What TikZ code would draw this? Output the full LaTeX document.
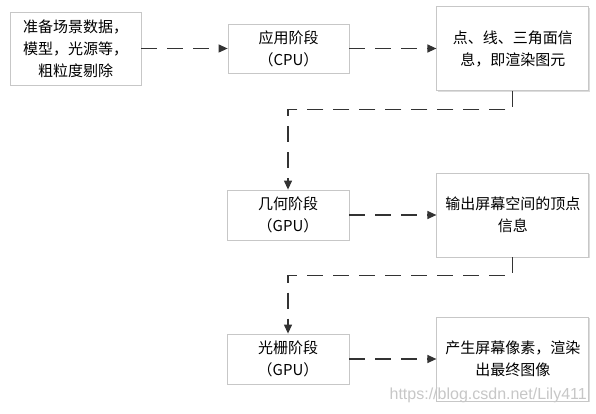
\documentclass[tikz,border=0pt]{standalone}
\usepackage{fontspec}
\setmainfont{Noto Sans CJK SC}
\newfontfamily\markfont{Liberation Sans}
\usepackage{tikz}
\usetikzlibrary{positioning,arrows.meta,shadows}

\begin{document}
\begin{tikzpicture}[
  x=1pt, y=-1pt,
  font=\fontsize{15}{22}\selectfont,
  box/.style={draw=black!22, fill=white, line width=0.8pt, align=center,
              inner sep=0pt,
              drop shadow={fill=black!30, opacity=0.45,
                           shadow xshift=1.2pt, shadow yshift=-1.2pt}},
  stagebox/.style={box, minimum width=122pt, minimum height=50pt},
  infobox/.style={box, minimum width=152pt, minimum height=84pt},
  flow/.style={draw=black!80, line width=1.2pt, dash pattern=on 16pt off 10pt,
               -{Triangle[length=9pt,width=8pt]}},
]
\useasboundingbox (0,0) rectangle (596,414);

\node[box, minimum width=131pt, minimum height=73pt] (prep) at (75.5,48.5)
  {准备场景数据，\\模型，光源等，\\粗粒度剔除};
\node[stagebox, minimum width=121pt, minimum height=49pt] (app) at (288.5,48.5)
  {应用阶段\\（CPU）};
\node[infobox, right=87pt of app] (prim) {点、线、三角面信\\息，即渲染图元};

\node[stagebox] (geo) at (288,215) {几何阶段\\（GPU）};
\node[infobox, right=87pt of geo] (verts) {输出屏幕空间的顶点\\信息};

\node[stagebox] (rast) at (288,359) {光栅阶段\\（GPU）};
\node[infobox, right=87pt of rast] (pixels) {产生屏幕像素，渲染\\出最终图像};

\draw[flow] (prep) -- (app);
\draw[flow] (app) -- (prim);
\draw[flow] (prim.south) -- ++(0,18.5) -| (geo.north);
\draw[flow] (geo) -- (verts);
\draw[flow] (verts.south) -- ++(0,18) -| (rast.north);
\draw[flow] (rast) -- (pixels);

% watermark
\node[font=\markfont\fontsize{16}{18}\selectfont, text=black!22,
      anchor=south east, inner sep=0pt] (mark) at (587,403)
  {https://blog.csdn.net/Lily411};
\end{tikzpicture}
\end{document}
